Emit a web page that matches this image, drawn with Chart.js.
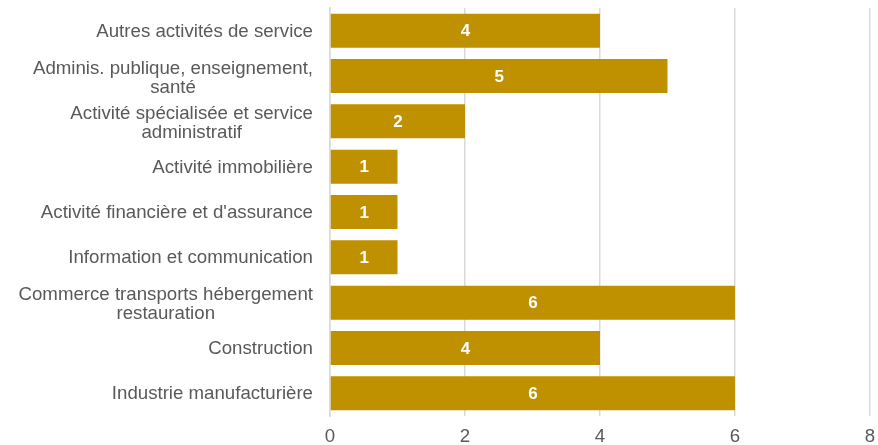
<!DOCTYPE html>
<html>
<head>
<meta charset="utf-8">
<script src="https://cdn.jsdelivr.net/npm/chart.js@4/dist/chart.umd.min.js"></script>
<style>
  html, body { margin: 0; padding: 0; background: #fff; }
  #wrap { width: 878px; height: 445px; }
</style>
</head>
<body>
<div id="wrap"><canvas id="myBarChart"></canvas></div>
<script>
// Kategorien (von oben nach unten)
const categories = [
    ["Autres activités de service"],
    ["Adminis. publique, enseignement,", "santé"],
    ["Activité spécialisée et service", "administratif"],
    ["Activité immobilière"],
    ["Activité financière et d'assurance"],
    ["Information et communication"],
    ["Commerce transports hébergement", "restauration"],
    ["Construction"],
    ["Industrie manufacturière"]
];
const values = [4, 5, 2, 1, 1, 1, 6, 4, 6];
const xTicks = [0, 2, 4, 6, 8];

const barColor = '#BF9000';
const textColor = '#595959';
const fontFamily = "'Liberation Sans', Arial, sans-serif";

// Zeichnet die Werte weiß in die Mitte der Balken.
const valueLabels = {
    id: 'valueLabels',
    afterDatasetsDraw(chart) {
        const ctx = chart.ctx;
        const meta = chart.getDatasetMeta(0);
        ctx.save();
        ctx.fillStyle = '#ffffff';
        ctx.font = "bold 17px " + fontFamily;
        ctx.textAlign = 'center';
        ctx.textBaseline = 'middle';
        meta.data.forEach((bar, i) => {
            const p = bar.getProps(['x', 'y', 'base'], true);
            ctx.fillText(String(values[i]), (p.x + p.base) / 2, p.y + 1);
        });
        ctx.restore();
    }
};

// Kategorie-Beschriftungen: mehrzeilig, Zeilen untereinander zentriert.
const categoryLabels = {
    id: 'categoryLabels',
    afterDraw(chart) {
        const ctx = chart.ctx;
        const yScale = chart.scales.y;
        const right = yScale.right - 17;
        const lineHeight = 19;
        ctx.save();
        ctx.fillStyle = textColor;
        ctx.font = "18.67px " + fontFamily;
        ctx.textAlign = 'center';
        ctx.textBaseline = 'middle';
        categories.forEach((lines, i) => {
            const yc = yScale.getPixelForTick(i);
            const w = Math.max(...lines.map((l) => ctx.measureText(l).width));
            const xc = right - w / 2;
            const y0 = yc - (lines.length - 1) * lineHeight / 2 + (lines.length > 1 ? 2 : 1);
            lines.forEach((l, j) => ctx.fillText(l, xc, y0 + j * lineHeight));
        });
        ctx.restore();
    }
};

const ctx = document.getElementById("myBarChart");
new Chart(ctx, {
    type: 'bar',
    data: {
        labels: categories.map((c) => c.join(' ')),
        datasets: [{
            data: values,
            backgroundColor: barColor,
            borderWidth: 0,
            barPercentage: 0.75,
            categoryPercentage: 1.0
        }]
    },
    options: {
        indexAxis: 'y',
        responsive: true,
        maintainAspectRatio: false,
        animation: false,
        layout: { padding: { top: 8, right: 8, left: 0, bottom: 0 } },
        plugins: {
            legend: { display: false },
            tooltip: { enabled: false }
        },
        scales: {
            x: {
                min: 0,
                max: 8,
                afterBuildTicks: (scale) => { scale.ticks = xTicks.map((v) => ({ value: v })); },
                grid: { color: '#d9d9d9', lineWidth: 1.5, drawTicks: true, tickLength: 9, tickColor: 'rgba(0,0,0,0)' },
                border: { display: false },
                ticks: { color: textColor, font: { size: 18.67, family: fontFamily }, padding: 1 },
                afterFit: (scale) => { scale.height = 29; }
            },
            y: {
                grid: { display: false },
                border: { display: true, color: '#d9d9d9', width: 1.5 },
                ticks: { display: false },
                afterFit: (scale) => { scale.width = 330; }
            }
        }
    },
    plugins: [valueLabels, categoryLabels]
});
</script>
</body>
</html>
